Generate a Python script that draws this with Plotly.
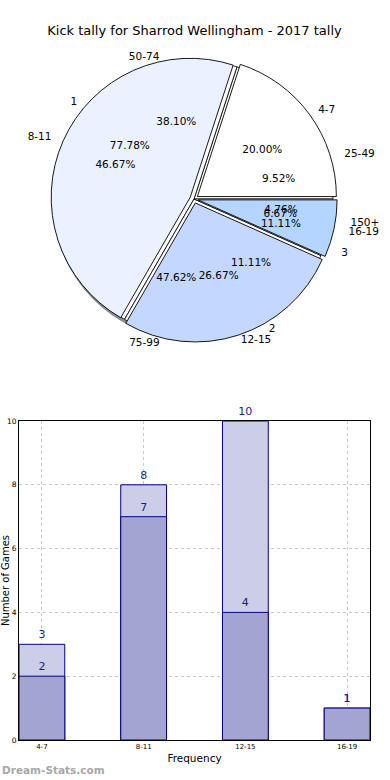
import math
import plotly.graph_objects as go

# ---------------- data ----------------
freq_labels = ["4-7", "8-11", "12-15", "16-19"]
freq_counts = [3, 7, 4, 1]

range_labels = ["25-49", "50-74", "75-99", "150+"]
range_counts = [2, 8, 10, 1]

kick_labels = ["1", "2", "3"]
kick_counts = [7, 1, 1]

bar_categories = ["4-7", "8-11", "12-15", "16-19"]
bar_light = [3, 8, 10, 1]
bar_dark = [2, 7, 4, 1]

title_text = "Kick tally for Sharrod Wellingham - 2017 tally"

# ---------------- layout helpers ----------------
W, H = 390, 780
ML, MR = 19, 20
PW = W - ML - MR
FONT = "DejaVu Sans"


def fx(px):
    return (px - ML) / PW


def fy(py):
    return 1 - py / H


def dom(cx, cy, r):
    return dict(x=[fx(cx - r), fx(cx + r)], y=[fy(cy + r), fy(cy - r)])


def start_east(vals):
    # plotly counterclockwise: first slice ends at `rotation`; make it start at 3 o'clock
    return 90 - 360.0 * vals[0] / sum(vals)


CX, CY, R = 194, 199, 139
RX, RY = 146, 132           # the original pie is slightly flattened
PULL = 0.03
RP_SMALL = 68
SMALL_FRAC = 0.14


def ell_r(theta):
    return RX * RY / math.hypot(RY * math.cos(theta), RX * math.sin(theta))


fig = go.Figure()

pie_common = dict(sort=False, direction="counterclockwise",
                  showlegend=False, hoverinfo="skip")
TRANSP = "rgba(0,0,0,0)"
txtfont = dict(family=FONT, size=10.5, color="#000000")

# shadow
fig.add_trace(go.Pie(values=freq_counts, labels=freq_labels,
                     rotation=start_east(freq_counts),
                     marker=dict(colors=["#6e6e6e"] * 4, line=dict(width=0)),
                     textinfo="none", domain=dom(CX - 2, CY + 2, R + 0.5),
                     opacity=0.8, **pie_common))
# white base disk
fig.add_trace(go.Pie(values=freq_counts, labels=freq_labels,
                     rotation=start_east(freq_counts),
                     marker=dict(colors=["#ffffff"] * 4,
                                 line=dict(width=0.8, color="#000000")),
                     textinfo="none", domain=dom(CX, CY, R), **pie_common))
# main visible pie
fig.add_trace(go.Pie(values=freq_counts, labels=freq_labels,
                     rotation=start_east(freq_counts),
                     marker=dict(colors=["#ffffff", "#eaf1ff", "#c4d8ff", "#b3d5ff"],
                                 line=dict(width=0.9, color="#000000")),
                     pull=[PULL] * 4, textinfo="none",
                     domain=dom(CX, CY, R * (1 + PULL)), **pie_common))

# text layers: one transparent pie per slice, so each text gets its own radius
for labs, vals in [(freq_labels, freq_counts), (range_labels, range_counts),
                   (kick_labels, kick_counts)]:
    n = len(vals)
    total = float(sum(vals))
    cum = 0.0
    for i in range(n):
        frac = vals[i] / total
        theta = 2 * math.pi * (cum + frac / 2)
        half = math.pi * frac
        cum += frac
        re = ell_r(theta)

        pos = ["none"] * n
        pos[i] = "outside"
        fig.add_trace(go.Pie(values=vals, labels=labs, rotation=start_east(vals),
                             marker=dict(colors=[TRANSP] * n, line=dict(width=0)),
                             textinfo="label", textposition=pos,
                             textfont=txtfont, outsidetextfont=txtfont,
                             domain=dom(CX, CY, 1.1 * re - 5), **pie_common))

        small = frac < SMALL_FRAC
        pos = ["none"] * n
        pos[i] = "outside" if small else "inside"
        r_txt = RP_SMALL if small else 0.6 * re * (1 + math.sin(min(half, math.pi / 2)))
        fig.add_trace(go.Pie(values=vals, labels=labs, rotation=start_east(vals),
                             marker=dict(colors=[TRANSP] * n, line=dict(width=0)),
                             texttemplate="%{percent:.2%}", textposition=pos,
                             insidetextorientation="horizontal",
                             textfont=txtfont, insidetextfont=txtfont,
                             outsidetextfont=txtfont,
                             domain=dom(CX, CY, r_txt), **pie_common))

# ---------------- bars ----------------
fig.add_trace(go.Bar(x=bar_categories, y=bar_light, width=0.45,
                     marker=dict(color="#cccde6", line=dict(color="#000080", width=1)),
                     text=bar_light, textposition="outside", cliponaxis=False,
                     textfont=dict(family=FONT, size=11, color="#1a1a8c"),
                     showlegend=False, hoverinfo="skip"))
fig.add_trace(go.Bar(x=bar_categories, y=bar_dark, width=0.45,
                     marker=dict(color="#a3a4d1", line=dict(color="#000080", width=1)),
                     text=bar_dark, textposition="outside", cliponaxis=False,
                     textfont=dict(family=FONT, size=11, color="#1a1a8c"),
                     showlegend=False, hoverinfo="skip"))

fig.update_layout(
    width=W, height=H,
    margin=dict(l=ML, r=MR, t=0, b=0),
    paper_bgcolor="white", plot_bgcolor="white",
    barmode="overlay",
    font=dict(family=FONT, color="#000000"),
    title=dict(text=title_text, x=0.5, xref="paper", xanchor="center",
               y=1 - 30 / H, yref="container", yanchor="middle",
               font=dict(family=FONT, size=13, color="#000000")),
    xaxis=dict(domain=[0, 1], range=[-0.225, 3.225], automargin=False,
               showline=True, linecolor="#000000", linewidth=1, mirror=True,
               showgrid=True, gridcolor="#c8c8c8", griddash="dot", gridwidth=1,
               ticks="", tickfont=dict(family=FONT, size=7, color="#000000"),
               title=dict(text="Frequency", font=dict(family=FONT, size=10.5),
                          standoff=4),
               zeroline=False),
    yaxis=dict(domain=[fy(740), fy(421)], range=[0, 10], dtick=2, automargin=False,
               showline=True, linecolor="#000000", linewidth=1, mirror=True,
               showgrid=True, gridcolor="#c8c8c8", griddash="dot", gridwidth=1,
               ticks="", tickfont=dict(family=FONT, size=7.5, color="#000000"),
               title=dict(text="Number of Games", font=dict(family=FONT, size=10),
                          standoff=2),
               zeroline=False),
    annotations=[dict(text="<b>Dream-Stats.com</b>", xref="paper", yref="paper",
                      x=fx(0), y=fy(770), xanchor="left", yanchor="middle",
                      showarrow=False,
                      font=dict(family=FONT, size=10.5, color="#a8a8a8"))],
)

fig.write_html("out.html",
               config={"displayModeBar": False},
               post_script="document.body.style.margin='0px';"
                           "document.body.style.overflow='hidden';")
